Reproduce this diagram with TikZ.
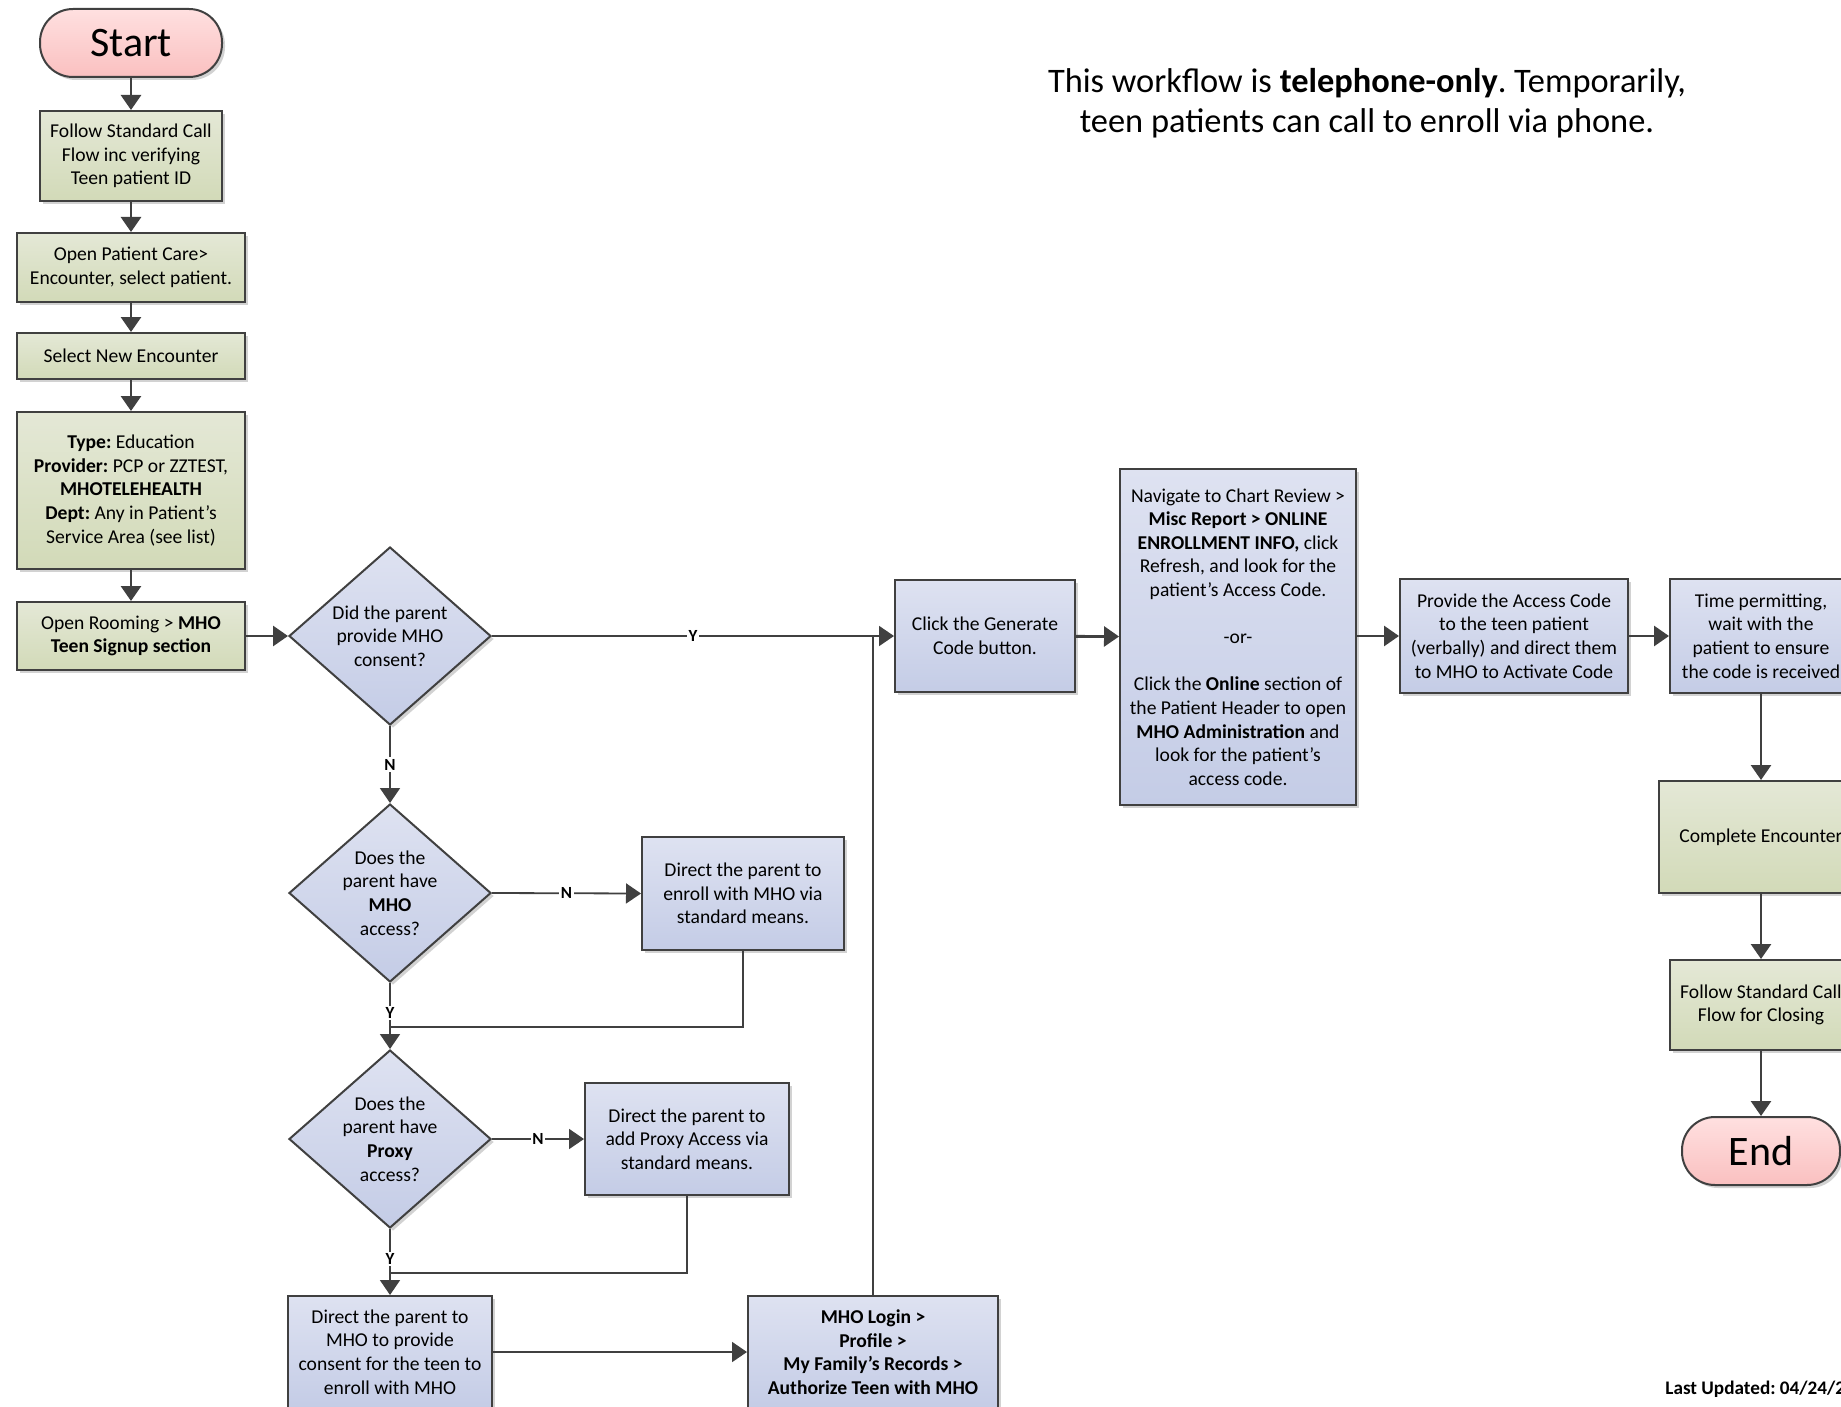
\documentclass[tikz,border=0pt]{standalone}
\usepackage{fontspec}
\setmainfont{Carlito}
\frenchspacing
\usetikzlibrary{shapes.geometric,arrows.meta,shadows}
\definecolor{linec}{RGB}{64,64,64}
\definecolor{gtop}{RGB}{228,232,214}
\definecolor{gbot}{RGB}{210,218,184}
\definecolor{btop}{RGB}{222,226,241}
\definecolor{bbot}{RGB}{196,204,230}
\definecolor{ptop}{RGB}{255,224,224}
\definecolor{pbot}{RGB}{250,192,192}
\tikzset{
 base/.style={draw=linec, line width=1pt, align=center, inner sep=1pt,
   font=\fontsize{9.8}{11.8}\selectfont, text=black,
   drop shadow={shadow xshift=1.5pt, shadow yshift=-1.5pt, fill=black!25, opacity=0.7}},
 gbox/.style={base, rectangle, top color=gtop, bottom color=gbot},
 bbox/.style={base, rectangle, top color=btop, bottom color=bbot},
 dbox/.style={base, diamond, aspect=1.13, inner sep=0pt, top color=btop, bottom color=bbot,
   minimum width=101pt, minimum height=89pt},
 term/.style={base, rectangle, rounded corners=16.5pt, top color=ptop, bottom color=pbot,
   font=\fontsize{21}{24}\selectfont},
 arr/.style={draw=linec, line width=1.4pt, -{Triangle[length=7.5pt,width=10pt]}},
 thinln/.style={draw=linec, line width=0.9pt},
 arrthin/.style={thinln, -{Triangle[length=7.5pt,width=10pt]}},
 lab/.style={fill=white, inner sep=0.8pt, font=\fontsize{8.5}{10}\selectfont\bfseries},
}
\begin{document}
\begin{tikzpicture}[x=0.5pt, y=-0.5pt]
\useasboundingbox (0,0) rectangle (1841,1407);
\clip (0,0) rectangle (1841,1407);
\fill[white] (0,0) rectangle (1841,1407);

% left column
\node[term, minimum width=91pt, minimum height=34pt] (start) at (131,43) {Start};
\node[gbox, minimum width=91pt, minimum height=45pt] (follow) at (131,156)
  {Follow Standard Call\\Flow inc verifying\\Teen patient ID};
\node[gbox, minimum width=114pt, minimum height=34.5pt] (open) at (131,267.5)
  {Open Patient Care>\\Encounter, select patient.};
\node[gbox, minimum width=114pt, minimum height=23pt] (select) at (131,356)
  {Select New Encounter};
\node[gbox, minimum width=114pt, minimum height=78.5pt] (type) at (131,490.5)
  {\textbf{Type:} Education\\\textbf{Provider:} PCP or ZZTEST,\\\textbf{MHOTELEHEALTH}\\\textbf{Dept:} Any in Patient’s\\Service Area (see list)};
\node[gbox, minimum width=114pt, minimum height=34pt] (room) at (131,636)
  {Open Rooming > \textbf{MHO}\\\textbf{Teen Signup section}};

% decisions
\node[dbox] (d1) at (390,636) {Did the parent\\provide MHO\\consent?};
\node[dbox] (d2) at (390,893) {Does the\\parent have\\\textbf{MHO}\\access?};
\node[dbox] (d3) at (390,1139) {Does the\\parent have\\\textbf{Proxy}\\access?};

\node[bbox, minimum width=101pt, minimum height=56.5pt] (enroll) at (743,893.5)
  {Direct the parent to\\enroll with MHO via\\standard means.};
\node[bbox, minimum width=102pt, minimum height=56pt] (proxy) at (687,1139)
  {Direct the parent to\\add Proxy Access via\\standard means.};
\node[bbox, minimum width=102pt, minimum height=56pt] (consent) at (390,1352)
  {Direct the parent to\\MHO to provide\\consent for the teen to\\enroll with MHO};
\node[bbox, minimum width=125pt, minimum height=56pt] (login) at (873,1352)
  {\textbf{MHO Login >}\\\textbf{Profile >}\\\textbf{My Family’s Records >}\\\textbf{Authorize Teen with MHO}};

% middle row
\node[bbox, minimum width=90pt, minimum height=56pt] (gen) at (985,636)
  {Click the Generate\\Code button.};
\node[bbox, minimum width=118pt, minimum height=168pt] (nav) at (1238,637)
  {Navigate to Chart Review >\\\textbf{Misc Report > ONLINE}\\\textbf{ENROLLMENT INFO,} click\\Refresh, and look for the\\patient’s Access Code.\\[11.8pt]-or-\\[11.8pt]Click the \textbf{Online} section of\\the Patient Header to open\\\textbf{MHO Administration} and\\look for the patient’s\\access code.};
\node[bbox, minimum width=114pt, minimum height=57pt] (prov) at (1514,636)
  {Provide the Access Code\\to the teen patient\\(verbally) and direct them\\to MHO to Activate Code};
\node[bbox, minimum width=91pt, minimum height=57pt] (time) at (1761,636)
  {Time permitting,\\wait with the\\patient to ensure\\the code is received};
\node[gbox, minimum width=102pt, minimum height=56pt] (complete) at (1761,837)
  {Complete Encounter};
\node[gbox, minimum width=91pt, minimum height=45pt] (closing) at (1761,1005)
  {Follow Standard Call\\Flow for Closing};
\node[term, minimum width=79pt, minimum height=34pt] (end) at (1761,1151) {End};

% texts
\node[font=\fontsize{17.2}{19.8}\selectfont, align=center, text=black] (note) at (1367,103)
  {This workflow is \textbf{telephone-only}. Temporarily,\\teen patients can call to enroll via phone.};
\node[anchor=west, inner sep=0pt, font=\fontsize{9.6}{11}\selectfont\bfseries] (upd) at (1665,1389)
  {Last Updated: 04/24/2};

% connectors
\draw[arr] (start) -- (follow);
\draw[arr] (follow) -- (open);
\draw[arr] (open) -- (select);
\draw[arr] (select) -- (type);
\draw[arr] (type) -- (room);
\draw[arr] (room) -- (d1);
\draw[arrthin] (d1.east) -- node[lab]{Y} (gen.west);
\draw[arrthin] (d1.south) -- node[lab]{N} (d2.north);
\draw[arrthin] (d2.east) -- node[lab]{N} (enroll.west);
\coordinate (m1) at (390,1027);
\draw[arrthin] (d2.south) -- node[lab, pos=0.45]{Y} (d3.north);
\draw[thinln] (enroll.south) |- (m1);
\draw[arrthin] (d3.east) -- node[lab]{N} (proxy.west);
\coordinate (m2) at (390,1273);
\draw[arrthin] (d3.south) -- node[lab, pos=0.45]{Y} (consent.north);
\draw[thinln] (proxy.south) |- (m2);
\draw[arrthin] (consent.east) -- (login.west);
\coordinate (j) at (873,636);
\draw[thinln] (login.north) -- (j);
\draw[arr] (gen) -- (nav);
\draw[arr] (nav.east |- prov.west) -- (prov.west);
\draw[arr] (prov) -- (time);
\draw[arr] (time) -- (complete);
\draw[arr] (complete) -- (closing);
\draw[arr] (closing) -- (end);
\end{tikzpicture}
\end{document}
